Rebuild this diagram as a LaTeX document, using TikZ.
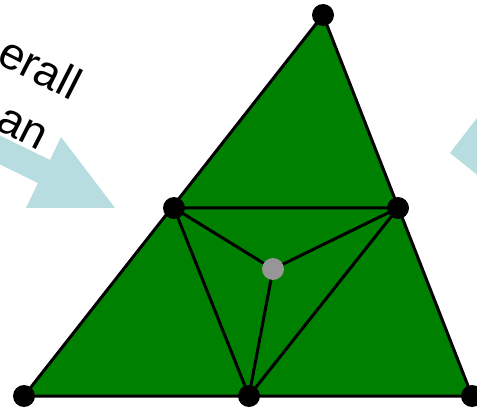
\documentclass[tikz,border=0pt]{standalone}
\usepackage{fontspec}
\setmainfont{Liberation Sans}
\definecolor{arrowblue}{RGB}{183,221,224}
\definecolor{trigreen}{RGB}{0,128,0}
\definecolor{dotgray}{RGB}{150,150,150}
\begin{document}
\begin{tikzpicture}[x=1pt,y=-1pt,
  edge/.style={line width=3pt,draw=black},
  dot/.style={circle,fill=black,inner sep=0pt,minimum size=22pt},
  gdot/.style={circle,fill=dotgray,inner sep=0pt,minimum size=22pt},
  label/.style={font=\fontsize{45}{54}\selectfont,rotate=-27,anchor=base west,inner sep=0pt},
  bigarrow/.style={fill=arrowblue,draw=none}]
\useasboundingbox (0,0) rectangle (477,409);
\clip (0,0) rectangle (477,409);
\fill[white] (0,0) rectangle (477,409);
% arrows
\fill[bigarrow] (-40,116) -- (50,160) -- (61,137) -- (115,208) -- (26,208) -- (38,183) -- (-52,139) -- cycle;
\fill[bigarrow] (450,153) -- (504,83) -- (520,140) -- (500,193) -- cycle;
% text
\node[label] (t1) at (-5,62) {erall};
\node[label] (t2) at (-6,128) {an};
% triangle
\coordinate (A) at (323,15);
\coordinate (B) at (24,396);
\coordinate (C) at (472,396);
\coordinate (L) at (174,208);
\coordinate (R) at (398,208);
\coordinate (M) at (249,396);
\coordinate (G) at (273,269);
\filldraw[fill=trigreen,edge,line join=round] (A) -- (B) -- (C) -- cycle;
\draw[edge] (L) -- (R) -- (M) -- (L);
\draw[edge] (L) -- (G) (R) -- (G) (M) -- (G);
\node[dot] (nA) at (A) {};
\node[dot] (nB) at (B) {};
\node[dot] (nC) at (C) {};
\node[dot] (nL) at (L) {};
\node[dot] (nR) at (R) {};
\node[dot] (nM) at (M) {};
\node[gdot] (nG) at (G) {};
\end{tikzpicture}
\end{document}
